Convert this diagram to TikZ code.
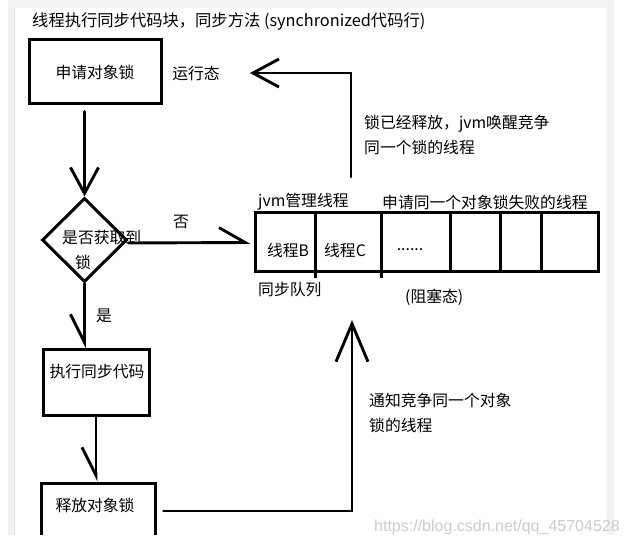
\documentclass[tikz,border=0pt]{standalone}
\usepackage{fontspec}
\setmainfont{Noto Sans CJK SC}
\newfontfamily\markfont{Liberation Sans}
\usetikzlibrary{arrows.meta, positioning, calc, shapes.geometric}

\begin{document}
\begin{tikzpicture}[
    x=1pt, y=-1pt,
    every node/.style={font=\fontsize{15.8}{18}\selectfont, inner sep=0pt},
    flow/.style={line width=2.9pt, line cap=round},
    stepbox/.style={rectangle, draw=black, line width=3pt},
    decision/.style={diamond, draw=black, line width=3pt, minimum width=85pt, minimum height=84pt},
    note/.style={anchor=west},
    twonote/.style={anchor=west, align=left, font=\fontsize{15.8}{25}\selectfont},
    openarrow/.style={flow, -{Straight Barb[length=26pt, width=28pt, line width=2.9pt]}},
    bigarrow/.style={flow, -{Straight Barb[length=38pt, width=32pt, line width=2.9pt]}},
    halfarrow/.style={flow, -{Straight Barb[harpoon, swap, length=28pt, width=28pt, line width=2.9pt]}},
    uparrow/.style={flow, -{Straight Barb[harpoon, length=26pt, width=30pt, line width=2.9pt]}}
]
\useasboundingbox (0,0) rectangle (624,545);

%--------------------------------------------------------------------
% Panel frame
%--------------------------------------------------------------------
\fill[gray!10] (8,0) rectangle (614,535);
\fill[white] (15,8) rectangle (607,535);
\draw[gray!25, line width=1pt] (14.5,8) -- (14.5,535);

\node[note, font=\fontsize{16.3}{18}\selectfont] (title) at (32,22) {线程执行同步代码块，同步方法 (synchronized代码行)};

%--------------------------------------------------------------------
% Left: flow of one thread
%--------------------------------------------------------------------
\node[stepbox, minimum width=132pt, minimum height=64pt] (lockreq) at (95,72) {申请对象锁};
\node (running) at (196,73) {运行态};

\node[decision] (dec) at (84.5,240) {};
\node[note] (dectext) at (62,238) {是否获取到};
\node (declock) at (83,262) {锁};

\node[stepbox, minimum width=106pt, minimum height=65pt] (exec) at (96,382.5) {};
\node (exectext) at (97,372) {执行同步代码};

\node[stepbox, minimum width=114pt, minimum height=56pt] (release) at (98,511) {};
\node (releasetext) at (95,505) {释放对象锁};

\node (nolabel) at (181,222) {否};
\node (yeslabel) at (104,316) {是};

% down the flow
\draw[openarrow] ($(lockreq.south -| dec.north)+(0,6)$) -- (dec.north);
\draw[halfarrow] (dec.south) -- (dec.south |- exec.north);
\draw[halfarrow] (exec.south) -- (exec.south |- release.north);

%--------------------------------------------------------------------
% Right: synchronized queue
%--------------------------------------------------------------------
\node[stepbox, minimum width=343pt, minimum height=59pt] (queue) at (426.5,242.5) {};
\foreach \d/\e in {62/5, 128/5, 197/0, 247/0, 288/0}
  \draw[flow, line cap=butt] ($(queue.north west)+(\d,0)$) -- ($(queue.south west)+(\d,\e)$);

\node (cellB) at (288,250) {线程B};
\node (cellC) at (345,250) {线程C};
\node (celldots) at (410,250) {......};

\node[note] (jvmlabel) at (258,202) {jvm管理线程};
\node[note] (faillabel) at (382,202) {申请同一个对象锁失败的线程};
\node[note] (synclabel) at (258,290) {同步队列};
\node[note] (blocklabel) at (405,297) {(阻塞态)};

\node[twonote] (wakenote) at (364,134.5) {锁已经释放，jvm唤醒竞争\\同一个锁的线程};
\node[twonote] (notifynote) at (369,412.5) {通知竞争同一个对象\\锁的线程};

% no lock: into the queue
\draw[uparrow] ([yshift=-3pt]dec.east) -- ([xshift=-3pt]queue.west);

% back to running and notify
\coordinate (wakeup) at (351,177);
\coordinate (notifytip) at (352,320);
\draw[openarrow] (wakeup) |- ([xshift=30pt]running.east);
\draw[bigarrow] ([xshift=7pt]release.east) -| (notifytip);

% cut at the bottom edge
\fill[white] (0,535) rectangle (624,545);

\node[note, font=\markfont\fontsize{16}{18}\selectfont, text=gray!40] (mark) at (374,527) {https://blog.csdn.net/qq\_45704528};

\end{tikzpicture}
\end{document}
